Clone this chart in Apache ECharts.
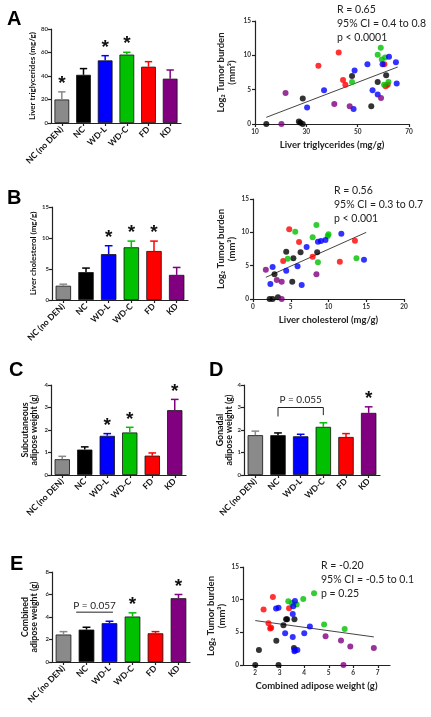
<!DOCTYPE html>
<html><head><meta charset="utf-8">
<script src="https://cdn.jsdelivr.net/npm/echarts@6/dist/echarts.min.js"></script>
<style>html,body{margin:0;padding:0;background:#fff}#c{width:431px;height:717px}</style>
</head><body><div id="c"></div>
<script>
const FF = "Lato, 'Open Sans', sans-serif";
const cats = ['NC (no DEN)','NC','WD-L','WD-C','FD','KD'];
const barColors = ['#8a8a8a','#000000','#0000ff','#00c000','#ff0000','#800080'];

const trigMean = [20, 41, 53.3, 58.2, 47.9, 37.7];
const trigErr  = [6.5, 5.3, 4, 2, 4.3, 7.4];
const trigSig  = [1,0,1,1,0,0];
const cholMean = [2.3, 4.5, 7.4, 8.5, 7.9, 4.05];
const cholErr  = [0.25, 0.65, 1.35, 1.0, 1.6, 1.2];
const cholSig  = [0,0,1,1,1,0];
const subqMean = [0.7, 1.13, 1.74, 1.89, 0.86, 2.88];
const subqErr  = [0.13, 0.12, 0.1, 0.23, 0.12, 0.48];
const subqSig  = [0,0,1,1,0,1];
const gonMean  = [1.77, 1.77, 1.72, 2.14, 1.69, 2.76];
const gonErr   = [0.18, 0.1, 0.09, 0.18, 0.15, 0.27];
const gonSig   = [0,0,0,0,0,1];
const combMean = [2.44, 2.88, 3.45, 4.04, 2.55, 5.67];
const combErr  = [0.26, 0.21, 0.17, 0.33, 0.15, 0.33];
const combSig  = [0,0,0,1,0,1];

const dBracket = [[1, 3, 3.0, 2.6, 2.66]];
const dLabel = 'P = 0.055';
const eBracket = [[1, 2, 4.43]];
const eLabel = 'P = 0.057';

const aBlack  = [[14.4,0],[27.1,0.35],[27.7,0.2],[28.6,0],[28.6,3.7],[47.8,7.0],[57.8,6.1],[55.3,2.6],[61.1,7.1]];
const aRed    = [[34.7,8.5],[42.6,10.4],[44.3,6.4],[45.2,5.7],[60.4,8.7],[60.9,5.5],[61.7,5.7]];
const aGreen  = [[59.0,11.1],[57.8,10.1],[59.4,9.4],[60.7,9.7],[47.8,6.1],[62.0,6.1],[60.3,5.7]];
const aBlue   = [[53.8,8.7],[48.8,7.8],[62.2,9.8],[64.9,9.0],[65.2,5.9],[59.7,8.7],[55.8,4.9],[57.8,4.3],[36.9,4.9],[30.3,2.4],[48.4,2.2]];
const aPurple = [[21.9,4.5],[20.3,0],[40.9,2.9],[46.9,2.6],[59.1,3.8]];
const aFit    = [[14.4,0.97],[65.6,8.3]];
const aStats  = ['R = 0.65','95% CI = 0.4 to 0.8','p < 0.0001'];

const bBlack  = [[2.2,0],[2.6,0],[3.3,0.25],[2.85,3.7],[4.4,7.1],[5.35,6.1],[6.3,7.0],[5.2,2.6],[8.5,7.0]];
const bRed    = [[4.8,10.45],[6.1,8.55],[4.0,5.7],[7.9,6.35],[11.5,5.6],[13.5,8.75]];
const bGreen  = [[5.6,10.1],[8.4,11.1],[7.9,9.25],[10.0,9.7],[9.9,9.45],[4.6,6.05],[8.6,5.5],[13.7,6.1]];
const bBlue   = [[11.7,9.8],[9.6,8.85],[9.0,8.7],[8.6,8.6],[7.1,7.8],[5.9,4.9],[4.4,4.25],[2.6,4.8],[2.3,2.25],[6.45,2.1],[14.7,5.9]];
const bPurple = [[1.7,4.4],[3.15,2.85],[3.8,2.6],[8.4,3.7],[3.8,0]];
const bFit    = [[1.7,3.25],[15,10]];
const bStats  = ['R = 0.56','95% CI = 0.3 to 0.7','p < 0.001'];

const eBlack  = [[2.0,0],[2.95,0],[2.15,2.3],[2.86,3.7],[3.15,6.1],[3.26,7.0],[3.3,7.0],[3.6,7.0],[3.58,2.6]];
const eRed    = [[2.72,10.4],[2.34,8.5],[2.54,6.4],[2.61,5.6],[2.65,5.7],[3.38,8.7]];
const eGreen  = [[4.4,11.0],[3.96,10.1],[3.35,9.75],[3.49,9.5],[3.69,9.25],[4.81,6.2],[5.65,5.5]];
const eBlue   = [[2.85,8.65],[2.95,8.75],[3.62,9.8],[3.55,9.0],[3.53,7.8],[3.22,4.85],[3.53,4.3],[4.0,4.85],[4.23,5.9],[3.62,2.3],[3.72,2.3],[3.6,2.1]];
const ePurple = [[4.87,4.4],[5.5,3.75],[5.88,2.85],[6.84,2.6],[5.6,0]];
const eFit    = [[2.0,6.8],[6.84,4.3]];
const eStats  = ['R = -0.20','95% CI = -0.5 to 0.1','p = 0.25'];
const eTicks  = [2,3,4,5,6,7];

const AX = {color:'#222', width:1.2};

function barX(gi){
  return {type:'category', gridIndex:gi, data:cats,
    axisLine:{show:true,lineStyle:AX}, axisTick:{show:true,alignWithLabel:true,length:3,lineStyle:AX},
    axisLabel:{interval:0,rotate:45,fontSize:8.5,fontWeight:'bold',color:'#111',margin:5,fontFamily:FF},
    splitLine:{show:false}};
}
function barY(gi,max,interval,name,gap,fs){
  return {type:'value', gridIndex:gi, min:0, max:max, interval:interval, name:name, nameLocation:'middle', nameGap:gap,
    nameTextStyle:{fontSize:fs,fontWeight:'bold',color:'#111',lineHeight:9,fontFamily:FF},
    axisLine:{show:true,lineStyle:AX}, axisTick:{show:true,length:3,lineStyle:AX},
    axisLabel:{fontSize:6,color:'#333',fontWeight:'bold',margin:3,fontFamily:FF}, splitLine:{show:false}};
}
function scX(gi,min,max,interval,name,ticks){
  const a = {type:'value', gridIndex:gi, min:min, max:max, interval:interval, name:name, nameLocation:'middle', nameGap:16,
    nameTextStyle:{fontSize:9.5,fontWeight:'bold',color:'#222',fontFamily:FF},
    axisLine:{show:true,lineStyle:AX}, axisTick:{show:true,length:3,lineStyle:AX},
    axisLabel:{fontSize:6.5,color:'#333',fontWeight:'bold',margin:4,fontFamily:FF}, splitLine:{show:false}};
  if (ticks){ a.axisTick.customValues = ticks; a.axisLabel.customValues = ticks; }
  return a;
}
function scY(gi,gap){
  return {type:'value', gridIndex:gi, min:0, max:15, interval:5, name:'Log\u2082 Tumor burden\n(mm\u00b3)', nameLocation:'middle', nameGap:gap,
    nameTextStyle:{fontSize:9.5,fontWeight:'bold',color:'#222',lineHeight:11,fontFamily:FF},
    axisLine:{show:true,lineStyle:AX}, axisTick:{show:true,length:3,lineStyle:AX},
    axisLabel:{fontSize:6.5,color:'#333',fontWeight:'bold',margin:4,fontFamily:FF}, splitLine:{show:false}};
}

function errRender(params, api){
  const i = api.value(0), v = api.value(1), e = api.value(2), s = api.value(3);
  const base = api.coord([i, v]);
  const top = api.coord([i, v + e]);
  const w = api.size([1,0])[0] * 0.17;
  const col = barColors[i];
  const ch = [
    {type:'line', shape:{x1:base[0],y1:base[1],x2:top[0],y2:top[1]}, style:{stroke:col,lineWidth:1.5}},
    {type:'line', shape:{x1:top[0]-w,y1:top[1],x2:top[0]+w,y2:top[1]}, style:{stroke:col,lineWidth:1.5}}
  ];
  if (s) ch.push({type:'text', x:top[0], y:top[1]-8, style:{text:'*', fontSize:19, fontFamily:'Liberation Sans', fontWeight:'bold', fill:'#111', align:'center', verticalAlign:'middle'}});
  return {type:'group', children:ch};
}
function barSeries(gi, means){
  return {type:'bar', xAxisIndex:gi, yAxisIndex:gi, barWidth:'68%', silent:true,
    data: means.map((v,i)=>({value:v, itemStyle:{color:barColors[i], borderColor:'#111', borderWidth:0.8}}))};
}
function errSeries(gi, means, errs, sigs){
  return {type:'custom', xAxisIndex:gi, yAxisIndex:gi, z:4, clip:false, renderItem:errRender,
    data: means.map((v,i)=>[i, v, errs[i], sigs[i]])};
}
function scSeries(gi, data, color){
  return {type:'scatter', xAxisIndex:gi, yAxisIndex:gi, data:data, symbolSize:6, clip:false, itemStyle:{color:color}, z:3};
}
function fitSeries(gi, data){
  return {type:'line', xAxisIndex:gi, yAxisIndex:gi, data:data, symbol:'none', lineStyle:{color:'#444', width:1}, z:2};
}

const grids = [
  {left:51, top:29, width:130, height:94},   // A bar
  {left:255, top:21, width:154, height:103}, // A scatter
  {left:52, top:207, width:136, height:93},  // B bar
  {left:253, top:199, width:151, height:100},// B scatter
  {left:51, top:385, width:135, height:90},  // C bar
  {left:244, top:385, width:136, height:90}, // D bar
  {left:52, top:572, width:138, height:90},  // E bar
  {left:243, top:567, width:147, height:98}  // E scatter
];

const xAxes = [
  barX(0), scX(1,10,70,20,'Liver triglycerides (mg/g)'),
  barX(2), scX(3,0,20,5,'Liver cholesterol (mg/g)'),
  barX(4), barX(5),
  barX(6), scX(7,1.5,7.5,1,'Combined adipose weight (g)',eTicks)
];
const yAxes = [
  barY(0,80,20,'Liver triglycerides (mg/g)',13,8), scY(1,18),
  barY(2,15,5,'Liver cholesterol (mg/g)',12,8), scY(3,16),
  barY(4,4,1,'Subcutaneous\nadipose weight (g)',12,8.8), barY(5,4,1,'Gonadal\nadipose weight (g)',8,8.8),
  barY(6,8,2,'Combined\nadipose weight (g)',13,8.8), scY(7,16)
];

const series = [
  barSeries(0,trigMean), errSeries(0,trigMean,trigErr,trigSig),
  barSeries(2,cholMean), errSeries(2,cholMean,cholErr,cholSig),
  barSeries(4,subqMean), errSeries(4,subqMean,subqErr,subqSig),
  barSeries(5,gonMean), errSeries(5,gonMean,gonErr,gonSig),
  barSeries(6,combMean), errSeries(6,combMean,combErr,combSig),
  {type:'custom', xAxisIndex:5, yAxisIndex:5, z:5, clip:false, data:dBracket,
   renderItem:function(p,api){
     const a = api.coord([api.value(0), api.value(3)]), b = api.coord([api.value(0), api.value(2)]);
     const c = api.coord([api.value(1), api.value(2)]), d = api.coord([api.value(1), api.value(4)]);
     return {type:'group', children:[
       {type:'polyline', shape:{points:[a,b,c,d]}, style:{stroke:'#222', lineWidth:1, fill:null}},
       {type:'text', x:(b[0]+c[0])/2, y:b[1]-8, style:{text:dLabel, fontSize:10, fontFamily:FF, fill:'#222', align:'center', verticalAlign:'middle'}}
     ]};
   }},
  {type:'custom', xAxisIndex:6, yAxisIndex:6, z:5, clip:false, data:eBracket,
   renderItem:function(p,api){
     const bw = api.size([1,0])[0];
     const a = api.coord([api.value(0), api.value(2)]), b = api.coord([api.value(1), api.value(2)]);
     const x1 = a[0] - 0.45*bw, x2 = b[0] + 0.15*bw;
     return {type:'group', children:[
       {type:'line', shape:{x1:x1,y1:a[1],x2:x2,y2:a[1]}, style:{stroke:'#222', lineWidth:1}},
       {type:'text', x:(x1+x2)/2, y:a[1]-6, style:{text:eLabel, fontSize:10, fontFamily:FF, fill:'#222', align:'center', verticalAlign:'middle'}}
     ]};
   }},
  fitSeries(1,aFit), scSeries(1,aBlack,'#000'), scSeries(1,aRed,'#ff0000'), scSeries(1,aGreen,'#00c000'), scSeries(1,aBlue,'#0000ff'), scSeries(1,aPurple,'#800080'),
  fitSeries(3,bFit), scSeries(3,bBlack,'#000'), scSeries(3,bRed,'#ff0000'), scSeries(3,bGreen,'#00c000'), scSeries(3,bBlue,'#0000ff'), scSeries(3,bPurple,'#800080'),
  fitSeries(7,eFit), scSeries(7,eBlack,'#000'), scSeries(7,eRed,'#ff0000'), scSeries(7,eGreen,'#00c000'), scSeries(7,eBlue,'#0000ff'), scSeries(7,ePurple,'#800080')
];

function letter(t,x,y){
  return {type:'text', x:x, y:y, style:{text:t, fontSize:20, fontWeight:'bold', fontFamily:"'Liberation Sans', Arial, sans-serif", fill:'#000', align:'left', verticalAlign:'middle'}};
}
function stats(lines,x,y){
  return lines.map((t,k)=>({type:'text', x:x, y:y+k*14, style:{text:t, fontSize:10.5, fontFamily:FF, fill:'#222', align:'left', verticalAlign:'middle'}}));
}
const graphic = [
  letter('A',7,19), letter('B',7,198), letter('C',9,370), letter('D',209,370), letter('E',10,564)
].concat(stats(aStats,337,10), stats(bStats,334,191), stats(eStats,321,566));

const chart = echarts.init(document.getElementById('c'), null, {renderer:'canvas'});
chart.setOption({animation:false, backgroundColor:'#fff', textStyle:{fontFamily:FF},
  grid:grids, xAxis:xAxes, yAxis:yAxes, series:series, graphic:graphic});
</script></body></html>
